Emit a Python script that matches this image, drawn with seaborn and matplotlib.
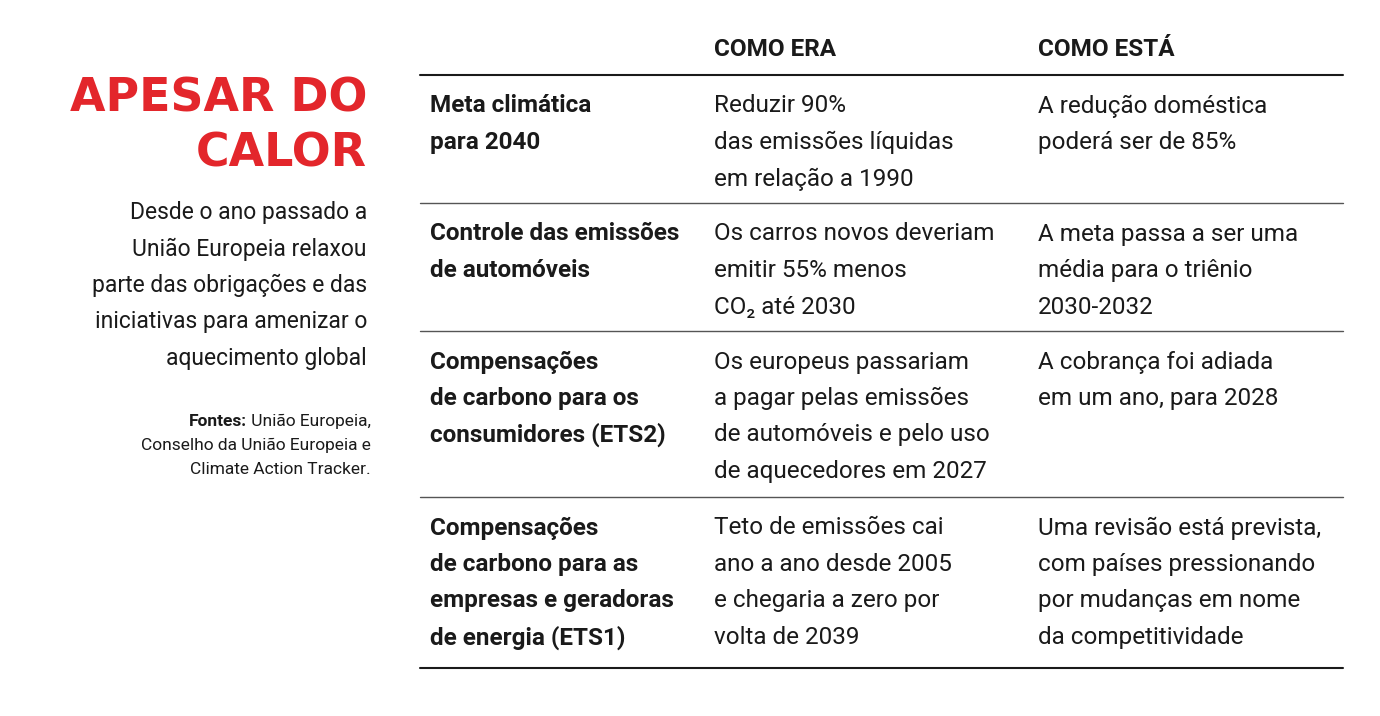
import matplotlib.pyplot as plt
import seaborn as sns

TITLE = ["APESAR DO", "CALOR"]
SUBTITLE = ["Desde o ano passado a", "União Europeia relaxou", "parte das obrigações e das",
            "iniciativas para amenizar o", "aquecimento global"]
SOURCES = [("Fontes:", " União Europeia,"), ("", "Conselho da União Europeia e"), ("", "Climate Action Tracker.")]
HEADERS = ["COMO ERA", "COMO ESTÁ"]
TOPICS = [
    ["Meta climática", "para 2040"],
    ["Controle das emissões", "de automóveis"],
    ["Compensações", "de carbono para os", "consumidores (ETS2)"],
    ["Compensações", "de carbono para as", "empresas e geradoras", "de energia (ETS1)"],
]
BEFORE = [
    ["Reduzir 90%", "das emissões líquidas", "em relação a 1990"],
    ["Os carros novos deveriam", "emitir 55% menos", "CO₂ até 2030"],
    ["Os europeus passariam", "a pagar pelas emissões", "de automóveis e pelo uso", "de aquecedores em 2027"],
    ["Teto de emissões cai", "ano a ano desde 2005", "e chegaria a zero por", "volta de 2039"],
]
NOW = [
    ["A redução doméstica", "poderá ser de 85%"],
    ["A meta passa a ser uma", "média para o triênio", "2030-2032"],
    ["A cobrança foi adiada", "em um ano, para 2028"],
    ["Uma revisão está prevista,", "com países pressionando", "por mudanças em nome", "da competitividade"],
]

sns.set_theme(style="white")
FAM = ["Roboto", "DejaVu Sans"]
RED = "#e3262b"
INK = "#1a1a1a"
FS = 17.5

fig = plt.figure(figsize=(13.8, 7.16), dpi=100)
ax = fig.add_axes([0, 0, 1, 1])
ax.set_xlim(0, 1380)
ax.set_ylim(716, 0)
ax.axis("off")

for i, t in enumerate(TITLE):
    ax.text(367, 99 + i * 55, t, ha="right", va="center", color=RED, fontsize=33,
            fontweight="bold", family=["DejaVu Sans"])
for i, t in enumerate(SUBTITLE):
    ax.text(367, 213 + i * 36.3, t, ha="right", va="center", color=INK, fontsize=16.5, family=FAM)

fig.canvas.draw()
for i, (b, r) in enumerate(SOURCES):
    y = 421 + i * 24
    t = ax.text(371, y, r, ha="right", va="center", color=INK, fontsize=12.5, family=FAM)
    if b:
        bb = t.get_window_extent(renderer=fig.canvas.get_renderer())
        x0 = ax.transData.inverted().transform((bb.x0, bb.y0))[0]
        ax.text(x0, y, b, ha="right", va="center", color=INK, fontsize=12.5,
                fontweight="bold", family=FAM)

cols = [430, 714, 1038]
for x, h in zip(cols[1:], HEADERS):
    ax.text(x, 49, h, ha="left", va="center", color=INK, fontsize=FS, fontweight="bold", family=FAM)

ax.plot([420, 1343], [75, 75], color=INK, lw=1.5)
row_tops = [75, 203, 331, 497]
row_bottoms = [203, 331, 497, 668]
LH = 36.5
for r in range(len(TOPICS)):
    y0 = row_tops[r] + 31
    for j, line in enumerate(TOPICS[r]):
        ax.text(cols[0], y0 + j * LH, line, ha="left", va="center", color=INK, fontsize=FS,
                fontweight="bold", family=FAM)
    for c, data in ((1, BEFORE), (2, NOW)):
        for j, line in enumerate(data[r]):
            ax.text(cols[c], y0 + j * LH, line, ha="left", va="center", color=INK, fontsize=FS,
                    family=FAM)
    yb = row_bottoms[r]
    ax.plot([420, 1343], [yb, yb], color=INK if r == 3 else "#555555", lw=1.5 if r == 3 else 1)

fig.savefig("out.png", dpi=100, facecolor="white")
